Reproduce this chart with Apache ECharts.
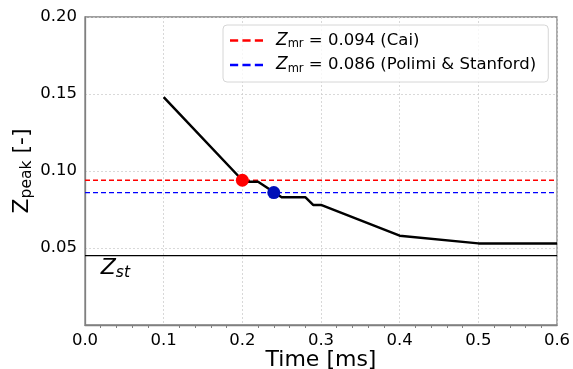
<!DOCTYPE html>
<html>
<head>
<meta charset="utf-8">
<script src="https://cdn.jsdelivr.net/npm/echarts@6/dist/echarts.min.js"></script>
<style>
html,body{margin:0;padding:0;background:#fff;}
#chart{width:573px;height:369px;}
</style>
</head>
<body>
<div id="chart"></div>
<script>
// ---- data ----
const timeMs = [0.10, 0.20, 0.205, 0.22, 0.25, 0.28, 0.29, 0.30, 0.40, 0.50, 0.60];
const zPeak  = [0.148, 0.094, 0.093, 0.093, 0.083, 0.083, 0.078, 0.078, 0.058, 0.053, 0.053];
const markerTime = [0.20, 0.24];
const markerZ = [0.094, 0.086];
const zmrCai = 0.094;
const zmrPolimi = 0.086;
const zSt = 0.045;
const xRange = [0, 0.6];
const yRange = [0, 0.2];
const legendLabels = ['0.094 (Cai)', '0.086 (Polimi & Stanford)'];

const FONT = 'DejaVu Sans';
const chart = echarts.init(document.getElementById('chart'), null, {renderer: 'canvas'});

const dashIcon = 'path://M0,0h25v7h-25z M38,0h25v7h-25z M76,0h25v7h-25z';

const option = {
  animation: false,
  backgroundColor: '#fff',
  textStyle: {fontFamily: FONT},
  grid: {left: 85, right: 16, top: 17, bottom: 44, containLabel: false, outerBoundsMode: 'none',
         show: true, borderColor: '#808080', borderWidth: 1.3, backgroundColor: 'transparent'},
  legend: {
    orient: 'vertical',
    left: 223, top: 25,
    padding: [7, 12, 7, 7],
    itemGap: 6,
    itemWidth: 33, itemHeight: 2.5,
    backgroundColor: 'rgba(255,255,255,0.8)',
    borderColor: '#d6d6d6', borderWidth: 1, borderRadius: 4,
    data: [
      {name: 'cai', icon: dashIcon, itemStyle: {color: '#ff0000'}},
      {name: 'polimi', icon: dashIcon, itemStyle: {color: '#0000ff'}}
    ],
    formatter: function (n) {
      const t = n === 'cai' ? legendLabels[0] : legendLabels[1];
      return '{z|Z}{s|mr}{n| = ' + t + '}';
    },
    textStyle: {
      fontFamily: FONT, color: '#000', fontSize: 16.5, padding: [0, 0, 0, 8],
      rich: {
        z: {fontFamily: FONT, fontSize: 17, fontStyle: 'italic', color: '#000', lineHeight: 20},
        s: {fontFamily: FONT, fontSize: 11.5, color: '#000', verticalAlign: 'bottom', padding: [6, 0, 0, 0], lineHeight: 20},
        n: {fontFamily: FONT, fontSize: 16.5, color: '#000', lineHeight: 20}
      }
    }
  },
  xAxis: {
    type: 'value', min: xRange[0], max: xRange[1], interval: 0.1,
    name: 'Time [ms]', nameLocation: 'middle', nameGap: 24, nameMoveOverlap: false,
    nameTextStyle: {fontFamily: FONT, fontSize: 22, color: '#000', lineHeight: 22},
    axisLine: {show: true, lineStyle: {color: '#808080', width: 1.3}},
    axisTick: {show: false},
    minorTick: {show: true, splitNumber: 5, length: 3, lineStyle: {color: '#808080', width: 1}},
    axisLabel: {fontFamily: FONT, fontSize: 16.5, color: '#000', margin: 7, formatter: v => v.toFixed(1)},
    splitLine: {show: true, lineStyle: {color: '#cfcfcf', type: [2, 2], width: 0.8}}
  },
  yAxis: {
    type: 'value', min: yRange[0], max: yRange[1], interval: 0.05,
    name: '{z|Z}{s|peak}{n| [-]}', nameLocation: 'middle', nameGap: 50, nameRotate: 90, nameMoveOverlap: false,
    nameTextStyle: {
      fontFamily: FONT, fontSize: 22, color: '#000',
      rich: {
        z: {fontFamily: FONT, fontSize: 22, color: '#000', lineHeight: 26},
        s: {fontFamily: FONT, fontSize: 15.5, color: '#000', verticalAlign: 'bottom', padding: [9, 0, 0, 0], lineHeight: 26},
        n: {fontFamily: FONT, fontSize: 22, color: '#000', lineHeight: 26}
      }
    },
    axisLine: {show: true, lineStyle: {color: '#808080', width: 1.3}},
    axisTick: {show: false},
    axisLabel: {fontFamily: FONT, fontSize: 16.5, color: '#000', margin: 8, formatter: v => v === 0 ? '' : v.toFixed(2)},
    splitLine: {show: true, lineStyle: {color: '#cfcfcf', type: [2, 2], width: 0.8}}
  },
  series: [
    {
      name: 'zst', type: 'line', symbol: 'none', silent: true,
      data: [[xRange[0], zSt], [xRange[1], zSt]],
      lineStyle: {color: '#000', width: 1.3}, z: 2
    },
    {
      name: 'cai', type: 'line', symbol: 'none', silent: true,
      data: [[xRange[0], zmrCai], [xRange[1], zmrCai]],
      lineStyle: {color: '#ff0000', width: 1.3, type: [5, 3]}, itemStyle: {color: '#ff0000'}, z: 2
    },
    {
      name: 'polimi', type: 'line', symbol: 'none', silent: true,
      data: [[xRange[0], zmrPolimi], [xRange[1], zmrPolimi]],
      lineStyle: {color: '#0000ff', width: 1.3, type: [5, 3]}, itemStyle: {color: '#0000ff'}, z: 2
    },
    {
      name: 'curve', type: 'line', symbol: 'none', silent: true,
      data: timeMs.map((t, i) => [t, zPeak[i]]),
      lineStyle: {color: '#000', width: 2.5, join: 'round'}, z: 3
    },
    {
      name: 'markers', type: 'scatter', symbolSize: 13, silent: true,
      data: [
        {value: [markerTime[0], markerZ[0]], itemStyle: {color: '#ff0000', opacity: 1}},
        {value: [markerTime[1], markerZ[1]], itemStyle: {color: '#0010b8', opacity: 1}}
      ],
      itemStyle: {opacity: 1},
      z: 4
    }
  ]
};
chart.setOption(option);

const p = chart.convertToPixel({gridIndex: 0}, [0.02, zSt]);
chart.setOption({
  graphic: [{
    type: 'text', left: p[0], top: p[1] + 1, z: 10,
    style: {
      text: '{z|Z}{s|st}',
      rich: {
        z: {fontFamily: FONT, fontSize: 22, fontStyle: 'italic', fill: '#000', lineHeight: 24},
        s: {fontFamily: FONT, fontSize: 15.5, fontStyle: 'italic', fill: '#000', verticalAlign: 'bottom', padding: [8, 0, 0, 0], lineHeight: 24}
      }
    }
  }]
});
</script>
</body>
</html>
